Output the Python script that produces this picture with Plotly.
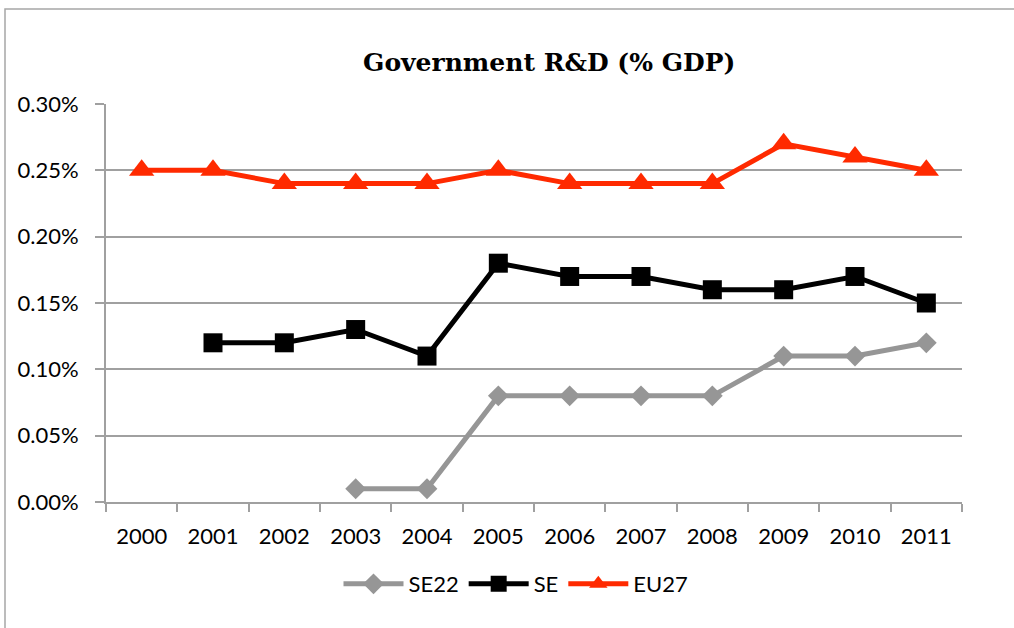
import plotly.graph_objects as go

years = ["2000", "2001", "2002", "2003", "2004", "2005", "2006", "2007", "2008", "2009", "2010", "2011"]
se22 = [None, None, None, 0.01, 0.01, 0.08, 0.08, 0.08, 0.08, 0.11, 0.11, 0.12]
se = [None, 0.12, 0.12, 0.13, 0.11, 0.18, 0.17, 0.17, 0.16, 0.16, 0.17, 0.15]
eu27 = [0.25, 0.25, 0.24, 0.24, 0.24, 0.25, 0.24, 0.24, 0.24, 0.27, 0.26, 0.25]
y_ticks = [0.00, 0.05, 0.10, 0.15, 0.20, 0.25, 0.30]
y_labels = ["0.00%", "0.05%", "0.10%", "0.15%", "0.20%", "0.25%", "0.30%"]

W, H = 1014, 628
L, R, T, B = 106, 962, 104, 502

def px_x(p):
    return (p - L) / (R - L)

def px_y(p):
    return (B - p) / (B - T)

fig = go.Figure()
fig.add_trace(go.Scatter(x=years, y=se22, name="SE22", mode="lines+markers",
                         line=dict(color="#969696", width=5),
                         marker=dict(symbol="diamond", size=16, color="#969696")))
fig.add_trace(go.Scatter(x=years, y=se, name="SE", mode="lines+markers",
                         line=dict(color="#000000", width=5),
                         marker=dict(symbol="square", size=19, color="#000000")))
fig.add_trace(go.Scatter(x=years, y=eu27, name="EU27", mode="lines+markers",
                         line=dict(color="#FF2A00", width=5),
                         marker=dict(symbol="triangle-up", size=22, color="#FF2A00")))

fig.update_layout(
    width=W, height=H,
    margin=dict(l=L, r=W - R, t=T, b=H - B, autoexpand=False),
    paper_bgcolor="white", plot_bgcolor="white",
    title=dict(text="<b>Government R&D (% GDP)</b>", x=525 / W, xref="paper",
               xanchor="center", y=1 - 62 / H, yanchor="middle",
               font=dict(family="DejaVu Serif", size=25, color="black")),
    font=dict(family="Lato", size=22, color="black"),
    showlegend=True,
    legend=dict(orientation="h", x=px_x(516), xanchor="center", y=px_y(584), yanchor="middle",
                font=dict(size=22), itemwidth=60, traceorder="normal", bgcolor="rgba(0,0,0,0)"),
    xaxis=dict(type="category", categoryorder="array", categoryarray=years,
               showgrid=False, showline=True, linecolor="#a0a0a0", linewidth=2,
               ticks="outside", tickson="boundaries", ticklen=8, tickcolor="#a0a0a0", tickwidth=2,
               tickfont=dict(size=22), range=[-0.5, 11.5], ticklabelstandoff=14),
    yaxis=dict(range=[0, 0.30], tickmode="array", tickvals=y_ticks, ticktext=y_labels,
               showgrid=True, gridcolor="#a0a0a0", gridwidth=1.5,
               showline=True, linecolor="#a0a0a0", linewidth=2,
               ticks="outside", ticklen=9, tickcolor="#a0a0a0", tickwidth=2,
               zeroline=False, tickfont=dict(size=22), ticklabelstandoff=12),
    shapes=[dict(type="rect", xref="paper", yref="paper",
                 x0=px_x(5), x1=px_x(1030), y0=px_y(9), y1=px_y(660),
                 line=dict(color="#a6a6a6", width=1.5), layer="below")],
)

fig.write_html("out.html", config={"displayModeBar": False},
               post_script="document.body.style.margin='0';")
